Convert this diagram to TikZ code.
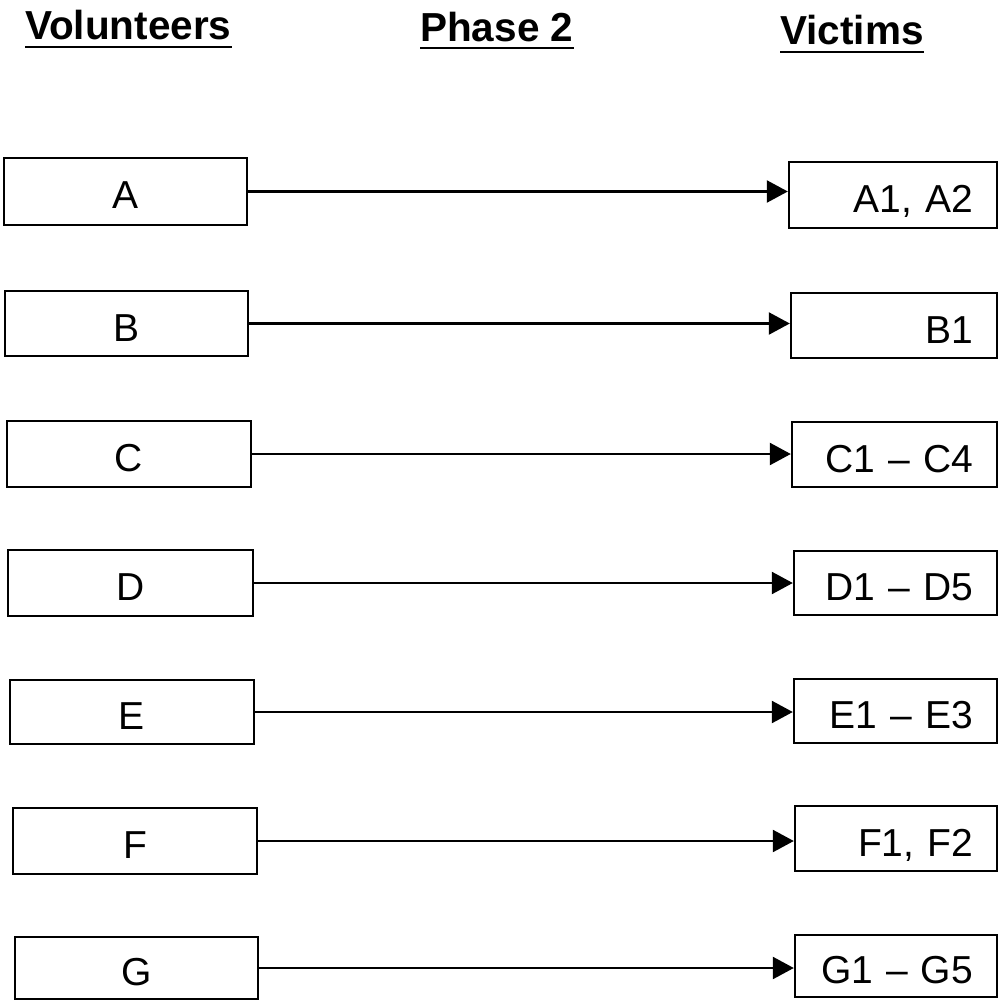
\documentclass[tikz,border=0pt]{standalone}
\usepackage{fontspec}
\setmainfont{Liberation Sans}
\usetikzlibrary{arrows.meta}
\begin{document}
\begin{tikzpicture}[x=1pt,y=-1pt,
  lbox/.style={draw,line width=2.4pt,rectangle,inner sep=0pt,text height=35pt,text depth=0pt,font=\fontsize{39}{45}\selectfont},
  rbox/.style={draw,line width=2.4pt,rectangle,inner ysep=0pt,inner xsep=24pt,text height=35pt,text depth=0pt,align=right,font=\fontsize{39}{45}\selectfont},
  head/.style={anchor=base west,inner sep=0pt,font=\fontsize{40.5}{46}\selectfont\bfseries},
  uline/.style={line width=2.6pt},
  conn/.style={line width=2.4pt,-{Triangle[length=21pt,width=22pt]}}]
\useasboundingbox (0,0) rectangle (998,1000);
% headers
\node[head] (hv) at (25,40) {Volunteers};
\node[head] (hp) at (420,42) {Phase 2};
\node[head] (hw) at (780,45) {Victims};
\draw[uline] ([yshift=-7pt]hv.base west) -- ([yshift=-7pt]hv.base east);
\draw[uline] ([yshift=-6pt]hp.base west) -- ([yshift=-6pt]hp.base east);
\draw[uline] ([yshift=-7pt]hw.base west) -- ([yshift=-7pt]hw.base east);
% left boxes
\node[lbox,minimum width=243pt,minimum height=67pt] (A) at (125.5,191.5) {A};
\node[lbox,minimum width=243pt,minimum height=65pt] (B) at (126.5,323.5) {B};
\node[lbox,minimum width=244pt,minimum height=66pt] (C) at (129,454) {C};
\node[lbox,minimum width=245pt,minimum height=66pt] (D) at (130.5,583) {D};
\node[lbox,minimum width=244pt,minimum height=64pt] (E) at (132,712) {E};
\node[lbox,minimum width=244pt,minimum height=66pt] (F) at (135,841) {F};
\node[lbox,minimum width=243pt,minimum height=62pt] (G) at (136.5,968) {G};
% right boxes
\node[rbox,text width=160pt,minimum height=66pt] (A1) at (893,195) {A1, A2};
\node[rbox,text width=158pt,minimum height=65pt] (B1) at (894,325.5) {B1};
\node[rbox,text width=157pt,minimum height=65pt] (C1) at (894.5,454.5) {C1 -- C4};
\node[rbox,text width=155pt,minimum height=64pt] (D1) at (895.5,583) {D1 -- D5};
\node[rbox,text width=155pt,minimum height=64pt] (E1) at (895.5,711) {E1 -- E3};
\node[rbox,text width=154pt,minimum height=65pt] (F1) at (896,838.5) {F1, F2};
\node[rbox,text width=154pt,minimum height=62pt] (G1) at (896,966) {G1 -- G5};
% connectors
\draw[conn] (A.east) -- (A.east -| A1.west);
\draw[conn] (B.east) -- (B.east -| B1.west);
\draw[conn] (C.east) -- (C.east -| C1.west);
\draw[conn] (D.east) -- (D.east -| D1.west);
\draw[conn] (E.east) -- (E.east -| E1.west);
\draw[conn] (F.east) -- (F.east -| F1.west);
\draw[conn] (G.east) -- (G.east -| G1.west);
\end{tikzpicture}
\end{document}
